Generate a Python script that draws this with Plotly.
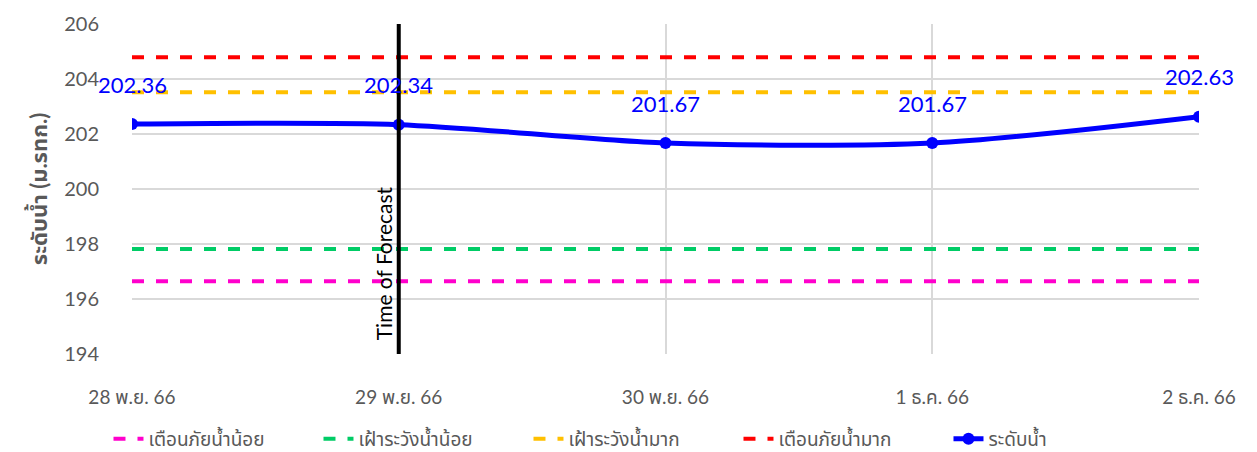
import plotly.graph_objects as go

dates = ["28 พ.ย. 66", "29 พ.ย. 66", "30 พ.ย. 66", "1 ธ.ค. 66", "2 ธ.ค. 66"]
water_level = [202.36, 202.34, 201.67, 201.67, 202.63]
warn_low = 196.65
watch_low = 197.82
watch_high = 203.52
warn_high = 204.79
forecast_index = 1
y_ticks = [194, 196, 198, 200, 202, 204, 206]

x = list(range(len(dates)))
FONT = "Lato, 'Noto Sans Thai', 'Noto Sans', sans-serif"
GRAY = "#595959"

fig = go.Figure()

ref_lines = [
    ("เตือนภัยน้ำน้อย", warn_low, "#ff00cc"),
    ("เฝ้าระวังน้ำน้อย", watch_low, "#00cc66"),
    ("เฝ้าระวังน้ำมาก", watch_high, "#ffc000"),
    ("เตือนภัยน้ำมาก", warn_high, "#ff0000"),
]
for name, val, col in ref_lines:
    fig.add_trace(go.Scatter(
        x=x, y=[val] * len(x), mode="lines", name=name,
        line=dict(color=col, width=4, dash="dash"), hoverinfo="skip"))

fig.add_trace(go.Scatter(
    x=x, y=water_level, mode="lines+markers", name="ระดับน้ำ",
    line=dict(color="#0000ff", width=5, shape="spline", smoothing=0.8),
    marker=dict(color="#0000ff", size=12)))

for xi, v in zip(x, water_level):
    fig.add_annotation(x=xi, y=v, text=f"{v:.2f}", showarrow=False,
                       yshift=40, font=dict(color="#0000ff", size=22, family=FONT))

fig.add_shape(type="line", x0=forecast_index, x1=forecast_index,
              y0=y_ticks[0], y1=y_ticks[-1], xref="x", yref="y",
              line=dict(color="black", width=4))
fig.add_annotation(x=forecast_index, y=y_ticks[0], text="Time of Forecast",
                   textangle=-90, showarrow=False, xanchor="right",
                   yanchor="bottom", xshift=-1, yshift=12,
                   font=dict(color="black", size=21, family=FONT))

fig.update_layout(
    width=1257, height=452,
    margin=dict(l=132, r=58, t=24, b=98, autoexpand=False),
    paper_bgcolor="white", plot_bgcolor="white",
    font=dict(family=FONT, color=GRAY, size=18),
    showlegend=True,
    legend=dict(orientation="h", x=0.47, xanchor="center", y=-0.2,
                yanchor="top", font=dict(size=19, color=GRAY),
                entrywidth=165, entrywidthmode="pixels",
                itemwidth=30),
    xaxis=dict(range=[0, len(dates) - 1], tickvals=x, ticktext=dates,
               showgrid=True, gridcolor="#d9d9d9", gridwidth=1.5,
               zeroline=False, showline=False, ticks="",
               ticklabelstandoff=30, automargin=False,
               tickfont=dict(size=19, color=GRAY)),
    yaxis=dict(range=[y_ticks[0], y_ticks[-1]], tickvals=y_ticks,
               showgrid=True, gridcolor="#d9d9d9", gridwidth=1.5,
               zeroline=False, showline=False, ticks="",
               ticklabelstandoff=32, automargin=False,
               tickfont=dict(size=20, color=GRAY),
               title=dict(text="<b>ระดับน้ำ (ม.รทก.)</b>", standoff=10,
                          font=dict(size=22, color=GRAY))),
)

fig.write_html("out.html", config={"displayModeBar": False},
               post_script="document.body.style.margin='0';document.body.style.overflow='hidden';")
